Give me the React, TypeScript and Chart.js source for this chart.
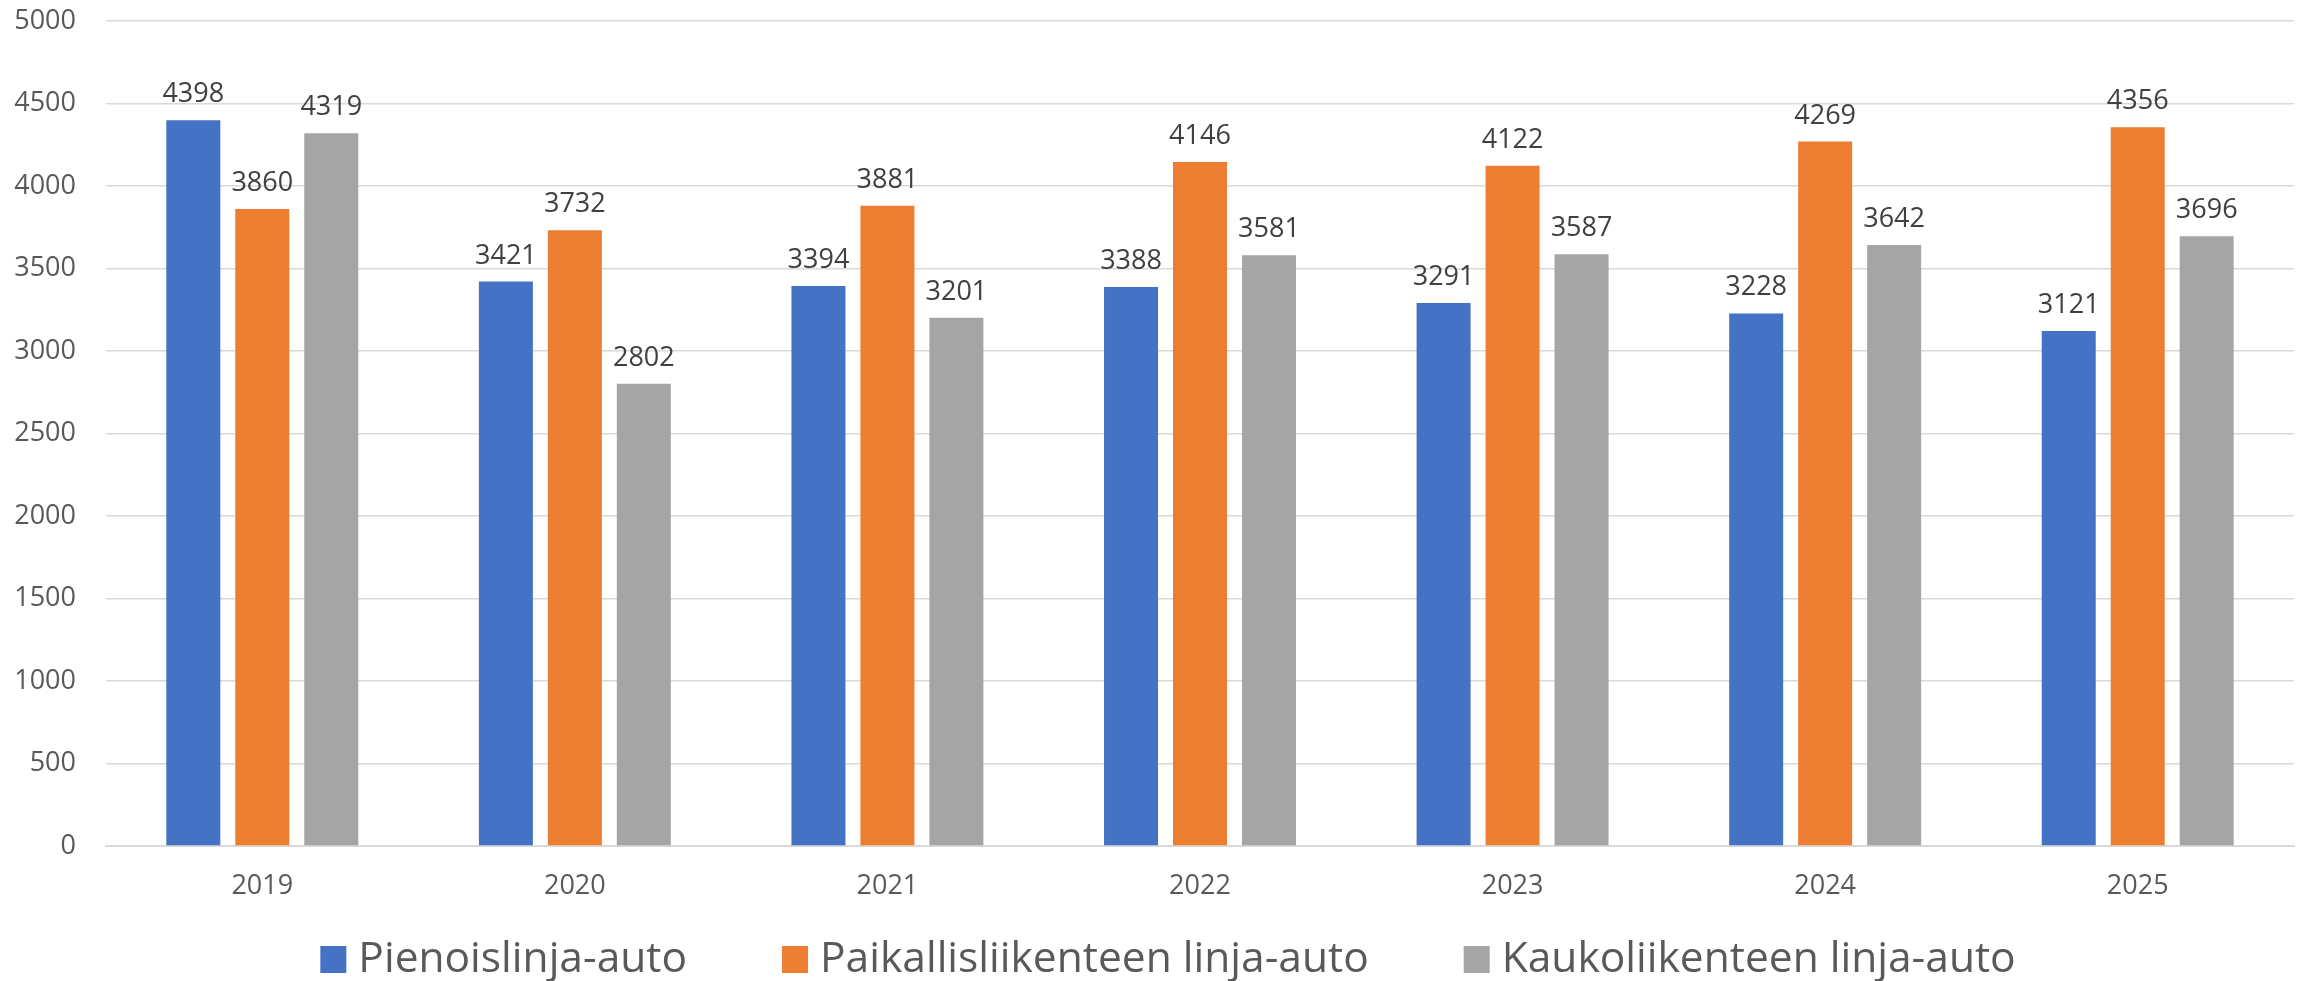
import React, { useEffect, useRef } from "react";
import { Chart, registerables } from "chart.js";

Chart.register(...registerables);

const categories = ["2019", "2020", "2021", "2022", "2023", "2024", "2025"];
const seriesNames = [
  "Pienoislinja-auto",
  "Paikallisliikenteen linja-auto",
  "Kaukoliikenteen linja-auto",
];
const pienoisValues = [4398, 3421, 3394, 3388, 3291, 3228, 3121];
const paikallisValues = [3860, 3732, 3881, 4146, 4122, 4269, 4356];
const kaukoValues = [4319, 2802, 3201, 3581, 3587, 3642, 3696];
const seriesColors = ["#4472C4", "#ED7D31", "#A5A5A5"];
const yMin = 0;
const yMax = 5000;
const yStep = 500;

const FONT = "'Open Sans', 'Noto Sans', sans-serif";

const valueLabelPlugin = {
  id: "valueLabels",
  afterDatasetsDraw(chart: any) {
    const ctx = chart.ctx;
    ctx.save();
    ctx.font = `27px ${FONT}`;
    ctx.fillStyle = "#404040";
    ctx.textAlign = "center";
    ctx.textBaseline = "alphabetic";
    chart.data.datasets.forEach((ds: any, i: number) => {
      const meta = chart.getDatasetMeta(i);
      meta.data.forEach((el: any, j: number) => {
        ctx.fillText(String(ds.data[j]), el.x, el.y - 18);
      });
    });
    ctx.restore();
  },
};

const legendPlugin = {
  id: "customLegend",
  afterDraw(chart: any) {
    const ctx = chart.ctx;
    const box = 26;
    const gapText = 12;
    const gapItem = 95;
    const centerX = 1168;
    const baseline = 972;
    ctx.save();
    ctx.font = `42.5px ${FONT}`;
    const items = chart.data.datasets.map((ds: any) => ({
      label: ds.label,
      color: ds.backgroundColor,
      w: ctx.measureText(ds.label).width,
    }));
    const total =
      items.reduce((s: number, it: any) => s + box + gapText + it.w, 0) +
      gapItem * (items.length - 1);
    let x = centerX - total / 2;
    ctx.textBaseline = "alphabetic";
    ctx.textAlign = "left";
    items.forEach((it: any) => {
      ctx.fillStyle = it.color;
      ctx.fillRect(x, 946, box, box + 1);
      ctx.fillStyle = "#595959";
      ctx.fillText(it.label, x + box + gapText, baseline);
      x += box + gapText + it.w + gapItem;
    });
    ctx.restore();
  },
};

export default function App() {
  const ref = useRef<HTMLCanvasElement>(null);
  useEffect(() => {
    if (!ref.current) return;
    const chart = new Chart(ref.current, {
      type: "bar",
      data: {
        labels: categories,
        datasets: [pienoisValues, paikallisValues, kaukoValues].map((vals, i) => ({
          label: seriesNames[i],
          data: vals,
          backgroundColor: seriesColors[i],
          borderWidth: 0,
          categoryPercentage: 0.662,
          barPercentage: 0.783,
        })),
      },
      options: {
        animation: false,
        responsive: false,
        devicePixelRatio: 1,
        layout: { padding: { top: 21, right: 11, bottom: 75, left: 0 } },
        plugins: {
          legend: { display: false },
          title: { display: false },
          tooltip: { enabled: false },
        },
        scales: {
          x: {
            grid: { display: false, drawTicks: false },
            border: { display: true, color: "#D9D9D9", width: 2 },
            ticks: {
              color: "#595959",
              font: { family: FONT, size: 27 },
              padding: 24,
              maxRotation: 0,
            },
            afterFit: (s: any) => {
              s.height = 60;
            },
          },
          y: {
            min: yMin,
            max: yMax,
            grid: { color: "#D9D9D9", lineWidth: 1.5, drawTicks: false },
            border: { display: false },
            ticks: {
              stepSize: yStep,
              color: "#595959",
              font: { family: FONT, size: 27 },
              padding: 30,
              callback: (v: any) => String(v),
            },
            afterFit: (s: any) => {
              s.width = 106;
              s.paddingTop = 0;
              s.paddingBottom = 0;
            },
          },
        },
      },
      plugins: [valueLabelPlugin, legendPlugin],
    });
    return () => chart.destroy();
  }, []);
  return (
    <div style={{ position: "fixed", left: 0, top: 0, width: 2305, height: 981, background: "#fff" }}>
      <canvas ref={ref} width={2305} height={981} />
    </div>
  );
}
